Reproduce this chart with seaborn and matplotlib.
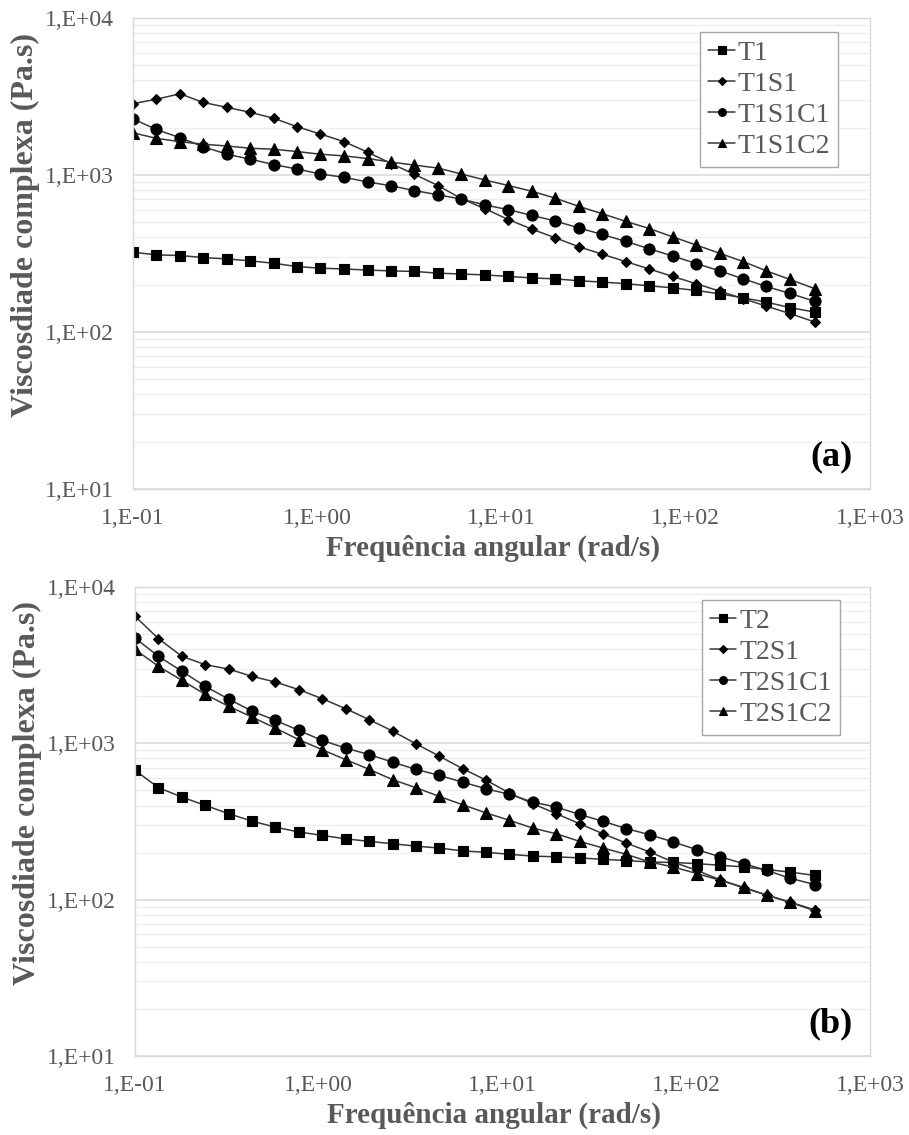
import numpy as np
import pandas as pd
import seaborn as sns
import matplotlib
matplotlib.use("Agg")
import matplotlib.pyplot as plt
from matplotlib.ticker import LogLocator, FuncFormatter, NullFormatter, FixedLocator

# ---------------- data ----------------
freq = [0.1, 0.134, 0.18, 0.241, 0.323, 0.433, 0.58, 0.778, 1.04, 1.4,
        1.88, 2.52, 3.37, 4.52, 6.06, 8.13, 10.9, 14.6, 19.6, 26.3,
        35.2, 47.2, 63.3, 84.8, 114, 153, 205, 274, 368, 500]

T1 = [322, 310, 307, 298, 292, 284, 274, 261, 255, 252,
      248, 245, 243, 237, 234, 231, 226, 221, 218, 212,
      208, 203, 197, 191, 184, 175, 165, 155, 143, 134]
T1S1 = [2845, 3040, 3290, 2896, 2697, 2507, 2300, 2029, 1824, 1630,
        1396, 1183, 1009, 857, 706, 610, 520, 452, 398, 349,
        313, 281, 252, 226, 203, 182, 163, 146, 131, 116]
T1S1C1 = [2276, 1950, 1726, 1514, 1356, 1261, 1166, 1091, 1015, 966,
          903, 853, 796, 748, 702, 645, 601, 553, 509, 460,
          418, 378, 339, 305, 273, 245, 218, 195, 176, 157]
T1S1C2 = [1857, 1712, 1630, 1569, 1531, 1480, 1459, 1410, 1356, 1323,
          1273, 1208, 1156, 1107, 1015, 929, 857, 788, 712, 631,
          567, 507, 456, 404, 358, 317, 281, 245, 216, 189]

T2 = [672, 521, 453, 401, 355, 318, 291, 271, 258, 245,
      236, 228, 220, 214, 205, 201, 195, 190, 188, 185,
      181, 178, 174, 173, 170, 166, 162, 156, 150, 143]
T2S1 = [6500, 4677, 3603, 3187, 2986, 2683, 2468, 2206, 1933, 1667,
        1418, 1199, 995, 829, 689, 582, 481, 411, 355, 306,
        264, 230, 202, 174, 154, 134, 119, 107, 96.5, 86]
T2S1C1 = [4720, 3603, 2891, 2316, 1920, 1609, 1403, 1211, 1045, 933,
          847, 759, 682, 624, 565, 512, 472, 421, 391, 351,
          317, 285, 260, 234, 209, 188, 170, 154, 137, 125]
T2S1C2 = [3990, 3110, 2530, 2058, 1726, 1473, 1253, 1056, 912, 787,
          682, 586, 521, 458, 405, 359, 322, 287, 264, 236,
          214, 195, 174, 162, 147, 133, 120, 107, 96, 85]

panel_a = {"T1": T1, "T1S1": T1S1, "T1S1C1": T1S1C1, "T1S1C2": T1S1C2}
panel_b = {"T2": T2, "T2S1": T2S1, "T2S1C1": T2S1C1, "T2S1C2": T2S1C2}

x_label = "Frequência angular (rad/s)"
y_label = "Viscosdiade complexa (Pa.s)"

# ---------------- style ----------------
sns.set_theme(style="white")
plt.rcParams["font.family"] = ["Liberation Serif", "DejaVu Serif"]

TXT = "#595959"
MAJ = "#D9D9D9"
MIN = "#EFEFEF"

markers = ["s", "D", "o", "^"]
msizes = [7.8, 5.5, 8, 8]

fig = plt.figure(figsize=(9.09, 11.35), dpi=100)
ax1 = fig.add_axes([133 / 909, 1 - 489 / 1135, 737 / 909, 471 / 1135])
ax2 = fig.add_axes([135 / 909, 1 - 1056 / 1135, 735 / 909, 469 / 1135])


def sci_fmt(v, pos):
    if v <= 0:
        return ""
    e = int(round(np.log10(v)))
    return f"1,E{e:+03d}"


def draw(ax, series, tag, leg_anchor):
    for (name, vals), mk, ms in zip(series.items(), markers, msizes):
        df = pd.DataFrame({"freq": freq, "visc": vals})
        sns.lineplot(data=df, x="freq", y="visc", ax=ax, color="#383838",
                     linewidth=1.1, marker=mk, markersize=ms,
                     markerfacecolor="black", markeredgecolor="black",
                     markeredgewidth=0.8, label=name, legend=False)
    ax.set_xscale("log")
    ax.set_yscale("log")
    ax.set_xlim(0.1, 1000)
    ax.set_ylim(10, 10000)

    ax.yaxis.set_major_locator(FixedLocator([10, 100, 1000, 10000]))
    ax.yaxis.set_minor_locator(LogLocator(base=10, subs=np.arange(2, 10)))
    ax.yaxis.set_minor_formatter(NullFormatter())
    ax.xaxis.set_major_locator(FixedLocator([0.1, 1, 10, 100, 1000]))
    ax.xaxis.set_minor_locator(FixedLocator([]))
    ax.xaxis.set_major_formatter(FuncFormatter(sci_fmt))
    ax.yaxis.set_major_formatter(FuncFormatter(sci_fmt))

    ax.grid(False)
    ax.yaxis.grid(True, which="major", color=MAJ, linewidth=1.1)
    ax.yaxis.grid(True, which="minor", color=MIN, linewidth=1.0)
    ax.set_axisbelow(True)
    for sp in ax.spines.values():
        sp.set_color(MAJ)
        sp.set_linewidth(1.0)

    ax.tick_params(axis="both", which="both", length=0, labelsize=17,
                   labelcolor=TXT)
    ax.tick_params(axis="x", pad=14)
    ax.tick_params(axis="y", pad=14)

    ax.set_xlabel(x_label, fontsize=21, fontweight="bold", color=TXT)
    ax.set_ylabel(y_label, fontsize=23, fontweight="bold", color=TXT)
    ax.yaxis.set_label_coords(-0.126, 0.56)
    ax.xaxis.set_label_coords(0.488, -0.098)

    ax.text(0.976, 0.068, tag, transform=ax.transAxes, ha="right",
            va="center", fontsize=26, fontweight="bold", color="black")

    leg = ax.legend(loc="upper right", bbox_to_anchor=leg_anchor,
                    fontsize=20, frameon=True, fancybox=False,
                    edgecolor="#A6A6A6", framealpha=1, borderpad=0.3,
                    labelspacing=0.2, handlelength=0.95, handletextpad=0.1,
                    borderaxespad=0, markerscale=0.7)
    leg.get_frame().set_linewidth(1.0)
    for t in leg.get_texts():
        t.set_color(TXT)


draw(ax1, panel_a, "(a)", (0.957, 0.970))
draw(ax2, panel_b, "(b)", (0.959, 0.972))

fig.savefig("out.png", dpi=100, facecolor="white")
